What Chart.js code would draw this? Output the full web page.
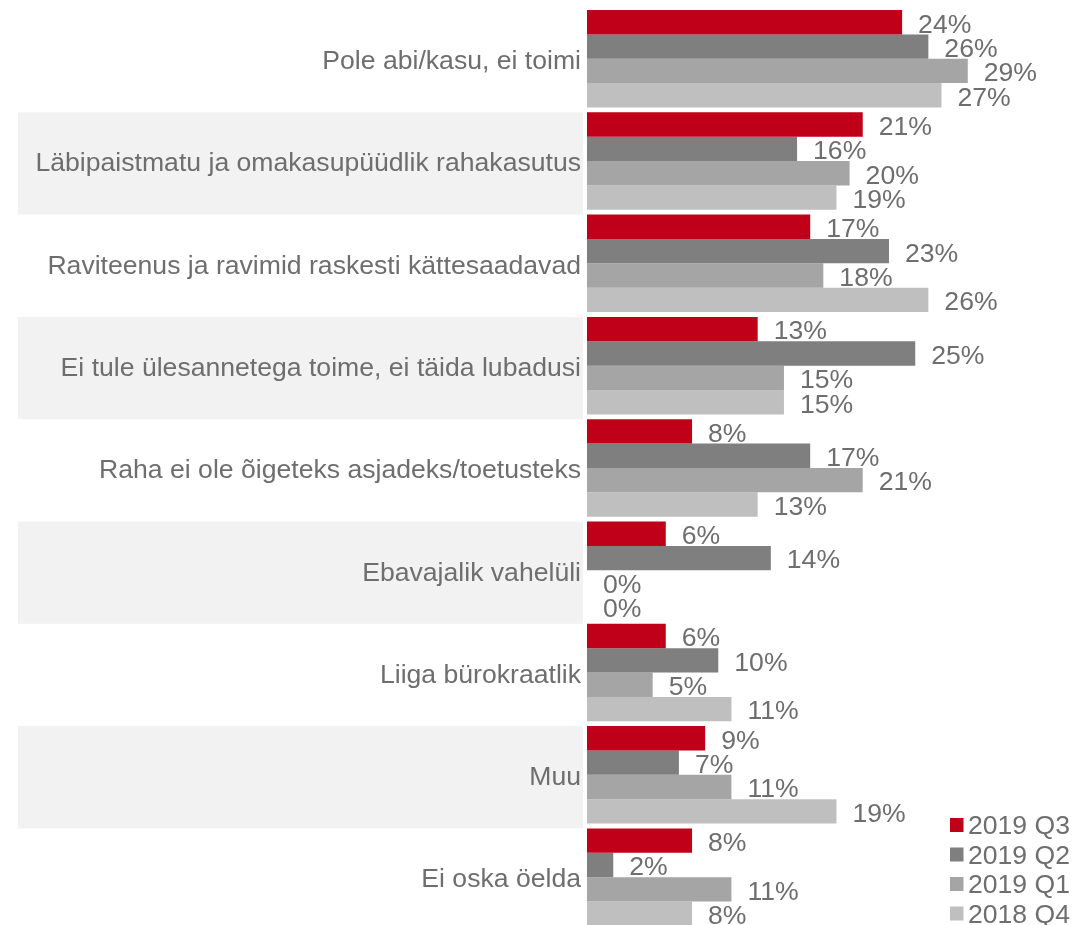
<!DOCTYPE html>
<html>
<head>
<meta charset="utf-8">
<script src="https://cdn.jsdelivr.net/npm/chart.js@4"></script>
<style>
  html, body { margin: 0; padding: 0; background: #ffffff; overflow: hidden; }
  #wrap { width: 1076px; height: 940px; }
</style>
</head>
<body>
<div id="wrap"><canvas id="c" width="1076" height="940"></canvas></div>
<script>
const categories = [
  "Pole abi/kasu, ei toimi",
  "Läbipaistmatu ja omakasupüüdlik rahakasutus",
  "Raviteenus ja ravimid raskesti kättesaadavad",
  "Ei tule ülesannetega toime, ei täida lubadusi",
  "Raha ei ole õigeteks asjadeks/toetusteks",
  "Ebavajalik vahelüli",
  "Liiga bürokraatlik",
  "Muu",
  "Ei oska öelda"
];
const seriesNames = ["2019 Q3", "2019 Q2", "2019 Q1", "2018 Q4"];
const q3_2019 = [24, 21, 17, 13, 8, 6, 6, 9, 8];
const q2_2019 = [26, 16, 23, 25, 17, 14, 10, 7, 2];
const q1_2019 = [29, 20, 18, 15, 21, 0, 5, 11, 11];
const q4_2018 = [27, 19, 26, 15, 13, 0, 11, 19, 8];
const seriesColors = ["#c00018", "#7f7f7f", "#a5a5a5", "#bfbfbf"];

const FONT = '"Liberation Sans", Arial, sans-serif';
const FSIZE = 26.6;
const TEXT = '#6e6e6e';

const bandPlugin = {
  id: 'bands',
  beforeDraw(chart) {
    const y = chart.scales.y;
    const ctx = chart.ctx;
    const n = categories.length;
    const H = (y.bottom - y.top) / n;
    const cp = chart.options.datasets.bar.categoryPercentage;
    ctx.save();
    ctx.fillStyle = '#f2f2f2';
    for (let i = 1; i < n; i += 2) {
      const c = y.getPixelForTick(i);
      const top = c - cp * H / 2;
      ctx.fillRect(18, top, chart.chartArea.left - 4 - 18, H);
    }
    ctx.restore();
  }
};

const labelPlugin = {
  id: 'valueLabels',
  afterDatasetsDraw(chart) {
    const ctx = chart.ctx;
    ctx.save();
    ctx.font = FSIZE + 'px ' + FONT;
    ctx.fillStyle = TEXT;
    ctx.textAlign = 'left';
    ctx.textBaseline = 'middle';
    chart.data.datasets.forEach((ds, di) => {
      const meta = chart.getDatasetMeta(di);
      meta.data.forEach((el, i) => {
        ctx.fillText(ds.data[i] + '%', el.x + 16, el.y + 3);
      });
    });
    ctx.restore();
  }
};

const legendPlugin = {
  id: 'cornerLegend',
  afterDraw(chart) {
    const ctx = chart.ctx;
    ctx.save();
    ctx.font = FSIZE + 'px ' + FONT;
    ctx.textBaseline = 'middle';
    ctx.textAlign = 'left';
    chart.data.datasets.forEach((ds, i) => {
      const cy = 825 + i * 29.5;
      ctx.fillStyle = ds.backgroundColor;
      ctx.fillRect(950, cy - 7, 13.5, 14);
      ctx.fillStyle = TEXT;
      ctx.fillText(ds.label, 968, cy + 2);
    });
    ctx.restore();
  }
};

const datasetsArr = [q3_2019, q2_2019, q1_2019, q4_2018].map((d, i) => ({
  label: seriesNames[i],
  data: d,
  backgroundColor: seriesColors[i],
  borderWidth: 0
}));

new Chart(document.getElementById('c'), {
  type: 'bar',
  data: { labels: categories, datasets: datasetsArr },
  options: {
    indexAxis: 'y',
    responsive: false,
    animation: false,
    devicePixelRatio: 1,
    datasets: { bar: { barPercentage: 1, categoryPercentage: 0.953 } },
    layout: { padding: { top: 7.6, bottom: 11.7, left: 0, right: 3.2 } },
    plugins: {
      legend: { display: false },
      title: { display: false },
      tooltip: { enabled: false }
    },
    scales: {
      x: {
        display: false,
        min: 0,
        max: 37
      },
      y: {
        grid: { display: false, drawTicks: false },
        border: { display: false },
        ticks: {
          font: { family: FONT, size: FSIZE },
          color: TEXT,
          padding: 6,
          labelOffset: 3,
          autoSkip: false
        },
        afterFit(scale) {
          scale.width = 587;
          scale.paddingTop = 0;
          scale.paddingBottom = 0;
        }
      }
    }
  },
  plugins: [bandPlugin, labelPlugin, legendPlugin]
});
</script>
</body>
</html>
